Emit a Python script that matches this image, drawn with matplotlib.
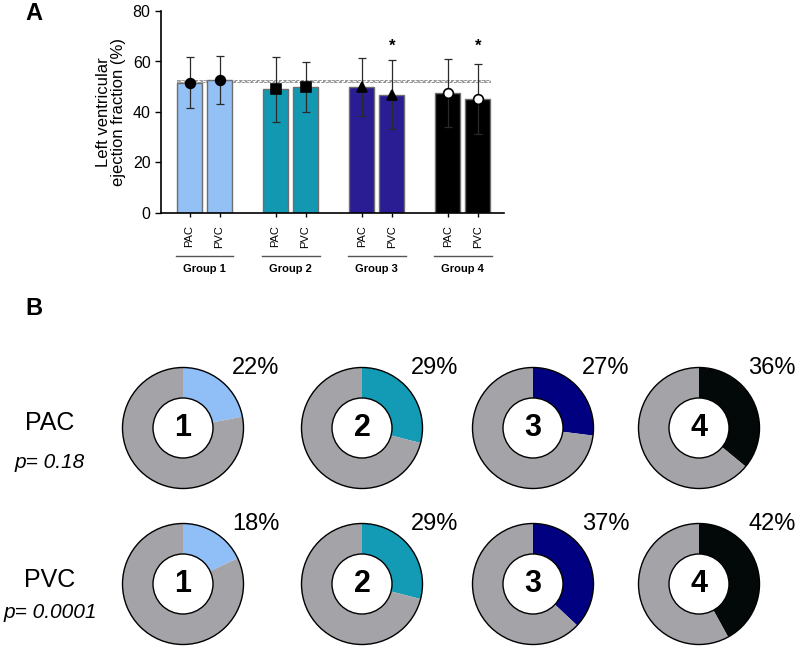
import matplotlib
matplotlib.use('Agg')
import matplotlib.pyplot as plt
from matplotlib.patches import Circle
import numpy as np

plt.rcParams['font.family'] = ['Liberation Sans', 'DejaVu Sans']

# panel A data
groups = ['Group 1', 'Group 2', 'Group 3', 'Group 4']
arrhythmia = ['PAC', 'PVC']
lvef_mean = [[51.6, 52.7], [49.0, 50.0], [50.0, 46.9], [47.6, 45.1]]
lvef_sd = [[10.1, 9.5], [12.9, 9.9], [11.4, 13.8], [13.5, 13.9]]
band_low, band_high = 51.8, 52.8
significant = [[False, False], [False, False], [False, True], [False, True]]

bar_colors = ['#93c1f6', '#1398b1', '#2a1d94', '#000000']
markers = ['o', 's', '^', 'o']
marker_face = ['black', 'black', 'black', 'white']

# panel B data
pac_pct = [22, 29, 27, 36]
pvc_pct = [18, 29, 37, 42]
pac_p = 'p= 0.18'
pvc_p = 'p= 0.0001'
donut_colors = ['#90bff7', '#139bb5', '#000080', '#030808']
gray = '#a4a3a8'

W, H = 800, 649
fig = plt.figure(figsize=(W / 100, H / 100), dpi=100)

# background axes in pixel units for panel B
bg = fig.add_axes([0, 0, 1, 1])
bg.set_facecolor('none')

# ---- panel A ----
ax = fig.add_axes([161 / W, 1 - 213 / H, 343 / W, 202 / H])
bw = 0.83
xs_all = []
for g in range(4):
    for k in range(2):
        x = 0.95 + 2.87 * g + k
        xs_all.append(x)
        m = lvef_mean[g][k]
        ax.bar(x, m, width=bw, color=bar_colors[g], edgecolor='#6e6e6e',
               linewidth=1, zorder=2)
        ax.errorbar(x, m, yerr=lvef_sd[g][k], fmt='none', ecolor='#2a2a2a',
                    elinewidth=0.9, capsize=3, capthick=0.9, zorder=4)
        ax.plot(x, m, marker=markers[g], markersize=7 if g != 2 else 6.5,
                markerfacecolor=marker_face[g], markeredgecolor='black',
                markeredgewidth=1.2, zorder=5, linestyle='none')
        if significant[g][k]:
            ax.text(x, 66, '*', ha='center', va='center', fontsize=12,
                    fontweight='bold', zorder=6)

ax.fill_between([xs_all[0] - bw / 2, xs_all[-1] + bw / 2], band_low, band_high,
                facecolor='white', edgecolor='#8a8a8a', hatch='//////',
                linewidth=0.6, linestyle='--', zorder=1)

ax.set_xlim(0, 343 / 30)
ax.set_ylim(0, 80)
ax.set_yticks([0, 20, 40, 60, 80])
ax.tick_params(axis='y', labelsize=11.5, length=4, width=1)
ax.set_xticks(xs_all)
ax.set_xticklabels(arrhythmia * 4, rotation=90, fontsize=8)
ax.tick_params(axis='x', length=3, width=1, pad=6)
for s in ['top', 'right']:
    ax.spines[s].set_visible(False)
ax.spines['left'].set_linewidth(1.2)
ax.spines['bottom'].set_linewidth(1.2)
ax.set_ylabel('Left ventricular\nejection fraction (%)', fontsize=12,
              labelpad=5, linespacing=1.0)

trans = ax.get_xaxis_transform()
for g in range(4):
    x0 = xs_all[2 * g] - bw / 2 - 0.05
    x1 = xs_all[2 * g + 1] + bw / 2 + 0.05
    ax.plot([x0, x1], [-0.213, -0.213], color='#555555', linewidth=1,
            transform=trans, clip_on=False)
    ax.text((x0 + x1) / 2, -0.277, groups[g], transform=trans, ha='center',
            va='center', fontsize=8, fontweight='bold')

fig.text(25 / W, 1 - 14 / H, 'A', fontsize=17, fontweight='bold', va='center')
fig.text(25 / W, 1 - 308 / H, 'B', fontsize=17, fontweight='bold', va='center')

# ---- panel B ----
cx = [183, 362, 533, 699]
rows = [(428, pac_pct), (584, pvc_pct)]
r_out, r_in = 60.5, 30
for cy_px, pcts in rows:
    cy = H - cy_px
    for i, p in enumerate(pcts):
        bg.pie([p, 100 - p], colors=[donut_colors[i], gray], startangle=90,
               counterclock=False, center=(cx[i], cy), radius=r_out,
               wedgeprops=dict(width=r_out - r_in, linewidth=0))
        bg.add_patch(Circle((cx[i], cy), r_out, fill=False, edgecolor='black', linewidth=1))
        bg.add_patch(Circle((cx[i], cy), r_in, facecolor='white', edgecolor='black', linewidth=1))
        bg.text(cx[i], cy, str(i + 1), ha='center', va='center', fontsize=22,
                fontweight='bold')
        bg.text(cx[i] + 73, cy + 60, f'{p}%', ha='center', va='center', fontsize=17)

bg.text(50, H - 423, 'PAC', ha='center', va='center', fontsize=18)
bg.text(50, H - 463, pac_p, ha='center', va='center', fontsize=15, style='italic')
bg.text(50, H - 580, 'PVC', ha='center', va='center', fontsize=18)
bg.text(50, H - 613, pvc_p, ha='center', va='center', fontsize=15, style='italic')

bg.set_xlim(0, W)
bg.set_ylim(0, H)
bg.set_aspect('auto')
bg.axis('off')

fig.savefig('out.png', dpi=100)
